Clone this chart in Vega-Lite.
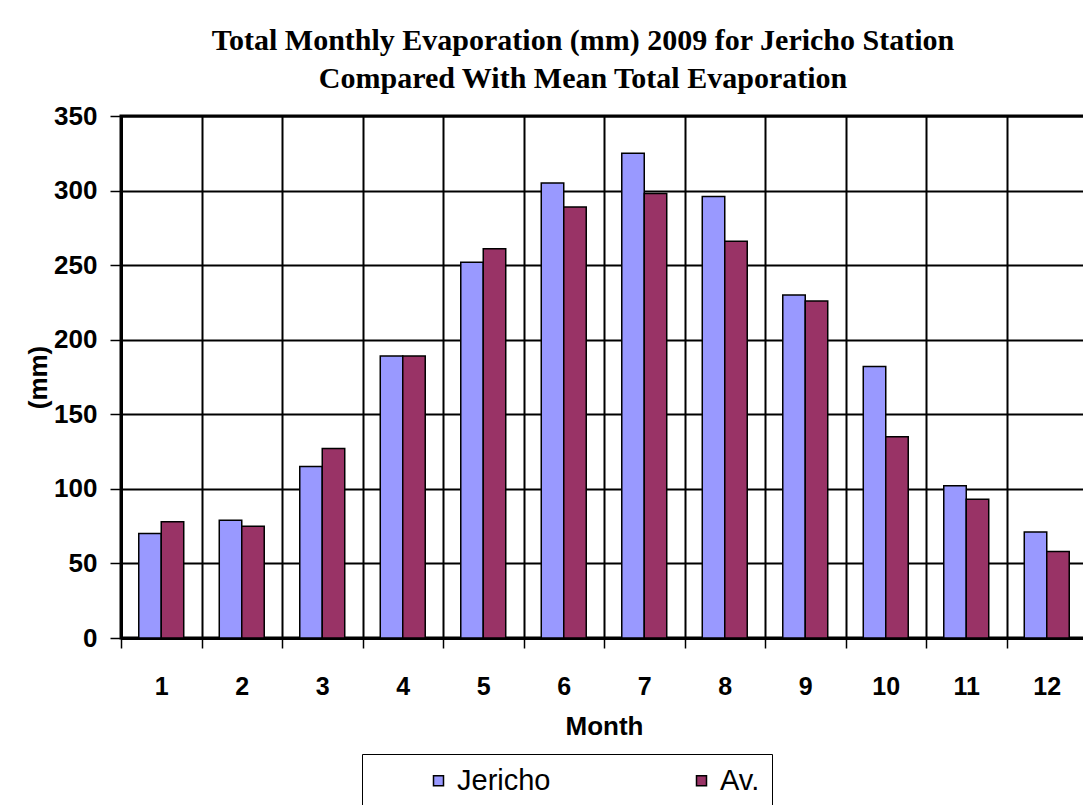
{
  "$schema": "https://vega.github.io/schema/vega-lite/v6.json",
  "width": 966,
  "height": 522,
  "autosize": {"type": "none"},
  "padding": {"left": 121, "top": 116, "right": 0, "bottom": 167},
  "background": "white",
  "title": {
    "text": ["Total Monthly Evaporation (mm) 2009 for Jericho Station", "Compared With Mean Total Evaporation"],
    "font": "Liberation Serif",
    "fontSize": 30,
    "fontWeight": "bold",
    "color": "black",
    "anchor": "middle",
    "dx": -21,
    "offset": 9,
    "lineHeight": 38
  },
  "data": {
    "values": [
      {"Month": 1, "Series": "Jericho", "Value": 70},
      {"Month": 1, "Series": "Av.", "Value": 78},
      {"Month": 2, "Series": "Jericho", "Value": 79},
      {"Month": 2, "Series": "Av.", "Value": 75},
      {"Month": 3, "Series": "Jericho", "Value": 115},
      {"Month": 3, "Series": "Av.", "Value": 127},
      {"Month": 4, "Series": "Jericho", "Value": 189},
      {"Month": 4, "Series": "Av.", "Value": 189},
      {"Month": 5, "Series": "Jericho", "Value": 252},
      {"Month": 5, "Series": "Av.", "Value": 261},
      {"Month": 6, "Series": "Jericho", "Value": 305},
      {"Month": 6, "Series": "Av.", "Value": 289},
      {"Month": 7, "Series": "Jericho", "Value": 325},
      {"Month": 7, "Series": "Av.", "Value": 298},
      {"Month": 8, "Series": "Jericho", "Value": 296},
      {"Month": 8, "Series": "Av.", "Value": 266},
      {"Month": 9, "Series": "Jericho", "Value": 230},
      {"Month": 9, "Series": "Av.", "Value": 226},
      {"Month": 10, "Series": "Jericho", "Value": 182},
      {"Month": 10, "Series": "Av.", "Value": 135},
      {"Month": 11, "Series": "Jericho", "Value": 102},
      {"Month": 11, "Series": "Av.", "Value": 93},
      {"Month": 12, "Series": "Jericho", "Value": 71},
      {"Month": 12, "Series": "Av.", "Value": 58}
    ]
  },
  "mark": {"type": "bar", "stroke": "black", "strokeWidth": 1.5},
  "encoding": {
    "x": {
      "field": "Month",
      "type": "ordinal",
      "scale": {"paddingInner": 0, "paddingOuter": 0},
      "axis": {
        "title": "Month",
        "labelAngle": 0,
        "tickBand": "extent",
        "grid": true,
        "gridColor": "black",
        "gridWidth": 2,
        "gridOpacity": 1,
        "domainColor": "black",
        "domainWidth": 3,
        "tickColor": "black",
        "tickWidth": 1.5,
        "tickSize": 10,
        "labelFont": "Liberation Sans",
        "labelFontWeight": "bold",
        "labelFontSize": 25,
        "labelColor": "black",
        "labelPadding": 26,
        "titleFont": "Liberation Sans",
        "titleFontSize": 26,
        "titleFontWeight": "bold",
        "titleColor": "black",
        "titlePadding": 14
      }
    },
    "xOffset": {
      "field": "Series",
      "type": "nominal",
      "sort": ["Jericho", "Av."],
      "scale": {"paddingInner": 0, "paddingOuter": 0.79}
    },
    "y": {
      "field": "Value",
      "type": "quantitative",
      "scale": {"domain": [0, 350], "nice": false},
      "axis": {
        "title": "(mm)",
        "values": [0, 50, 100, 150, 200, 250, 300, 350],
        "grid": true,
        "gridColor": "black",
        "gridWidth": 2,
        "gridOpacity": 1,
        "domainColor": "black",
        "domainWidth": 3,
        "tickColor": "black",
        "tickWidth": 1.5,
        "tickSize": 11,
        "labelFont": "Liberation Sans",
        "labelFontWeight": "bold",
        "labelFontSize": 26,
        "labelColor": "black",
        "labelPadding": 13,
        "titleFont": "Liberation Sans",
        "titleFontSize": 26,
        "titleFontWeight": "bold",
        "titleColor": "black",
        "titlePadding": 2
      }
    },
    "color": {
      "field": "Series",
      "type": "nominal",
      "scale": {"domain": ["Jericho", "Av."], "range": ["#9999FF", "#993366"]},
      "legend": {
        "orient": "none",
        "legendX": 241,
        "legendY": 638,
        "direction": "horizontal",
        "columns": 2,
        "gridAlign": "all",
        "title": null,
        "symbolType": "square",
        "symbolSize": 100,
        "symbolStrokeColor": "black",
        "symbolStrokeWidth": 1.5,
        "symbolOffset": 50,
        "labelOffset": 4,
        "labelFont": "Liberation Sans",
        "labelFontSize": 29,
        "labelColor": "black",
        "labelLimit": 300,
        "labelExpr": "datum.label == 'Av.' ? 'Av.\u00a0\u00a0\u00a0\u00a0\u00a0\u00a0\u00a0' : datum.label",
        "columnPadding": 86,
        "padding": 12,
        "strokeColor": "black",
        "fillColor": "white"
      }
    }
  },
  "config": {
    "view": {"stroke": "black", "strokeWidth": 3}
  }
}
